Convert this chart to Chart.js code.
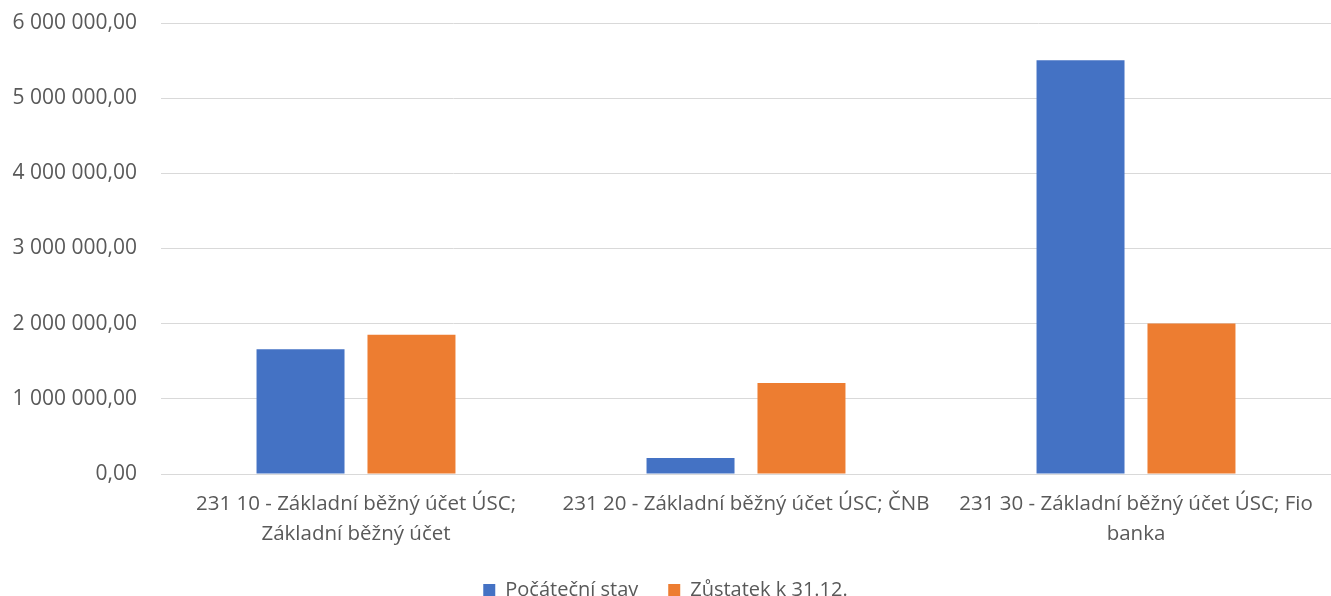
<!DOCTYPE html>
<html>
<head>
<meta charset="utf-8">
<script src="https://cdn.jsdelivr.net/npm/chart.js@4/dist/chart.umd.min.js"></script>
<style>
  html, body { margin: 0; padding: 0; background: #fff; }
  #wrap { position: relative; width: 1331px; height: 596px; }
</style>
</head>
<body>
<div id="wrap"><canvas id="c"></canvas></div>
<script>
// data
const categories = [
  ['231 10 - Základní běžný účet ÚSC;', 'Základní běžný účet'],
  '231 20 - Základní běžný účet ÚSC; ČNB',
  ['231 30 - Základní běžný účet ÚSC; Fio', 'banka']
]
const seriesNames = ['Počáteční stav', 'Zůstatek k 31.12.']
const pocatecniStav = [1660000, 214000, 5505000]
const zustatek = [1852000, 1212000, 2002000]
const yTicks = [0, 1000000, 2000000, 3000000, 4000000, 5000000, 6000000]

const colors = ['#4472C4', '#ED7D31']
const textColor = '#595959'
const fontFamily = "'Open Sans', 'Noto Sans', sans-serif"

// "6 000 000,00" style
function fmt(v) {
  const parts = v.toFixed(2).split('.')
  return parts[0].replace(/\B(?=(\d{3})+(?!\d))/g, ' ') + ',' + parts[1]
}

new Chart(document.getElementById('c'), {
  type: 'bar',
  data: {
    labels: categories,
    datasets: [
      { label: seriesNames[0], data: pocatecniStav, backgroundColor: colors[0] },
      { label: seriesNames[1], data: zustatek, backgroundColor: colors[1] }
    ]
  },
  options: {
    responsive: true,
    maintainAspectRatio: false,
    animation: false,
    layout: { padding: { top: 23, right: 0, bottom: -14, left: 0 } },
    datasets: {
      bar: { categoryPercentage: 0.569, barPercentage: 0.793 }
    },
    scales: {
      x: {
        grid: { display: false, drawTicks: false },
        border: { display: true, color: '#d9d9d9', width: 1 },
        afterFit: axis => { axis.height = 76 },
        ticks: {
          color: textColor,
          font: { family: fontFamily, size: 20.5, lineHeight: 1.46 },
          padding: 15,
          maxRotation: 0,
          autoSkip: false
        }
      },
      y: {
        min: 0,
        max: 6000000,
        afterBuildTicks: axis => { axis.ticks = yTicks.map(v => ({ value: v })) },
        afterFit: axis => {
          axis.width = 161
          axis.paddingTop = 0
          axis.paddingBottom = 0
        },
        grid: { color: '#d9d9d9', lineWidth: 1, drawTicks: false },
        border: { display: false },
        ticks: {
          color: textColor,
          font: { family: fontFamily, size: 21 },
          padding: 24,
          callback: v => fmt(v)
        }
      }
    },
    plugins: {
      legend: {
        position: 'bottom',
        labels: {
          color: textColor,
          font: { family: fontFamily, size: 20 },
          boxWidth: 12,
          boxHeight: 12,
          padding: 30
        }
      },
      tooltip: { enabled: false }
    }
  }
})
</script>
</body>
</html>
